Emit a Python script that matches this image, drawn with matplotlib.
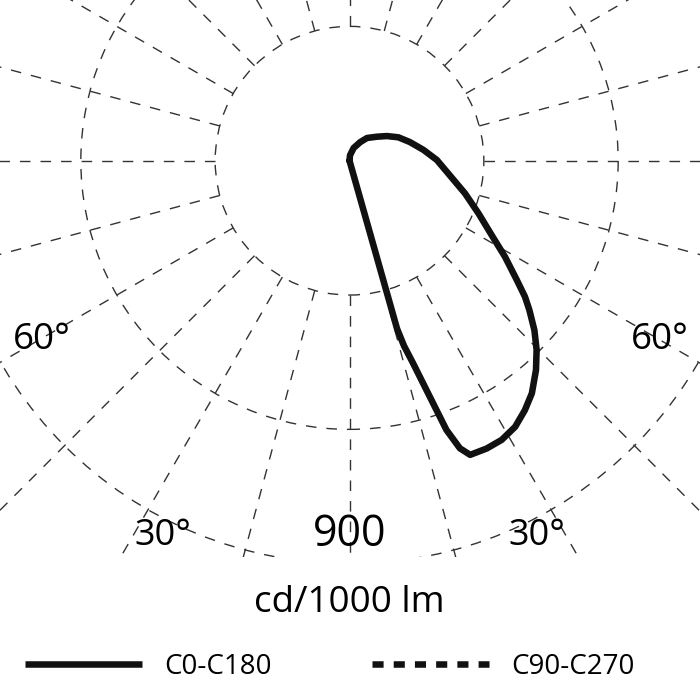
import numpy as np
import matplotlib
matplotlib.use("Agg")
import matplotlib.pyplot as plt
from matplotlib.lines import Line2D
from matplotlib.patches import Circle

plt.rcParams['font.family'] = ['Open Sans', 'DejaVu Sans']

# C0-C180 plane, gamma from nadir in degrees (positive towards C0), cd/1000 lm
gamma_c0 = [15.7, 175, 162, 150, 142.4, 131.4, 123.4, 115.6, 107.2, 98.3,
            90.5, 82.7, 74.2, 67.8, 62.4, 58.3, 54.5, 52.2, 50.3, 47.5,
            44.7, 41.7, 38.1, 35.1, 31.9, 28.6, 25.5, 22.3, 21.0, 19.8,
            19.0, 17.4, 16.4, 15.8, 15.7]
intens_c0 = [0, 12, 30, 48, 64, 81, 100, 121, 141, 167,
             195, 222, 268, 311, 358, 408, 459, 496, 522, 560,
             594, 626, 660, 681, 700, 710, 712, 710, 688, 639,
             572, 473, 431, 390, 0]

rings = [300, 600, 900, 1200]
spokes = np.arange(0, 360, 15)
legend_labels = ['C0-C180', 'C90-C270']
unit_label = 'cd/1000 lm'

ink = '#111111'
grid_c = '#333333'
grid_ls = (0, (7.6, 7.2))

fig = plt.figure(figsize=(7, 7), dpi=100)
ax = fig.add_axes([0, 143 / 700, 1, 557 / 700])
ax.set_xlim(-780.5, 782.7)
ax.set_ylim(-885, 358.9)
ax.axis('off')

for r in rings:
    ax.add_patch(Circle((0, 0), r, fill=False, ec=grid_c, lw=1.0, ls=grid_ls))

for a in spokes:
    t = np.radians(a)
    rr = np.array([rings[0], 2500])
    ax.plot(rr * np.sin(t), -rr * np.cos(t), color=grid_c, lw=1.0, ls=grid_ls)

g = np.radians(gamma_c0)
I = np.array(intens_c0)
ax.plot(I * np.sin(g), -I * np.cos(g), color=ink, lw=4.7,
        solid_joinstyle='round', solid_capstyle='round', zorder=5)

# angle and value labels
ax.text(-686.7, -400.4, '60°', fontsize=26.5, ha='center', va='center')
ax.text(693.4, -400.4, '60°', fontsize=26.5, ha='center', va='center')
ax.text(-416.5, -838, '30°', fontsize=26, ha='center', va='center')
ax.text(418.7, -838, '30°', fontsize=26, ha='center', va='center')
ax.text(0, -836, '900', fontsize=31, ha='center', va='center')

fig.text(0.4993, 1 - 603 / 700, unit_label, fontsize=26.5, ha='center', va='center')

handles = [Line2D([], [], color=ink, lw=4.7, solid_capstyle='butt'),
           Line2D([], [], color=ink, lw=4.7, ls=(0, (1.7, 1.55)), dash_capstyle='butt')]
fig.legend(handles, legend_labels, ncol=2, loc='center left',
           bbox_to_anchor=(24.5 / 700, 1 - 667 / 700), frameon=False,
           fontsize=20, handlelength=4.23, handletextpad=0.8,
           columnspacing=3.6, borderpad=0, borderaxespad=0)

fig.savefig('out.png', dpi=100)
